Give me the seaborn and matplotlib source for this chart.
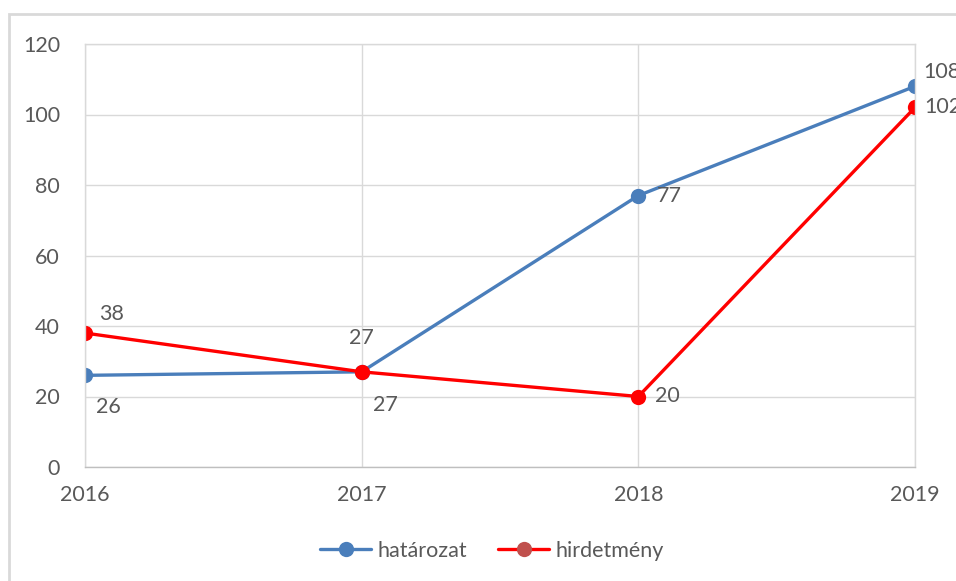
import matplotlib
matplotlib.use("Agg")
import matplotlib.pyplot as plt
import seaborn as sns
import pandas as pd
from matplotlib.lines import Line2D
from matplotlib.patches import Rectangle

# data
years = [2016, 2017, 2018, 2019]
hatarozat = [26, 27, 77, 108]
hirdetmeny = [38, 27, 20, 102]
series_names = ["határozat", "hirdetmény"]

df = pd.DataFrame({
    "year": years * 2,
    "value": hatarozat + hirdetmeny,
    "series": [series_names[0]] * 4 + [series_names[1]] * 4,
})

sns.set_style("white")
plt.rcParams["font.family"] = ["Lato", "DejaVu Sans"]

blue = "#4A7EBB"
red = "#FF0000"
text_col = "#595959"
grid_col = "#D9D9D9"
fs = 15.5

fig = plt.figure(figsize=(9.56, 5.81), dpi=100)
ax = fig.add_axes([85 / 956, 1 - 467 / 581, 830 / 956, 423 / 581])

sns.lineplot(data=df, x="year", y="value", hue="series",
             palette={series_names[0]: blue, series_names[1]: red},
             marker="o", markersize=11, markeredgewidth=0, linewidth=2.4,
             ax=ax, legend=False)

ax.set_xlim(2016, 2019)
ax.set_ylim(0, 120)
ax.set_xticks(years)
ax.set_yticks(range(0, 121, 20))
ax.grid(True, color=grid_col, linewidth=1)
ax.set_axisbelow(True)
for s in ax.spines.values():
    s.set_color(grid_col)
    s.set_linewidth(1)
ax.spines["bottom"].set_color("#BFBFBF")
ax.tick_params(axis="both", length=0, labelsize=fs, colors=text_col)
ax.tick_params(axis="y", pad=18)
ax.tick_params(axis="x", pad=13)
ax.set_xlabel("")
ax.set_ylabel("")

# data labels (offsets in points)
blue_labels = [((8, -23), "left"), ((8, -24), "left"), ((13, 0), "left"), ((6, 10), "left")]
red_labels = [((10, 14), "left"), ((0, 24), "center"), ((12, 0), "left"), ((7, 0), "left")]
for x, y, (off, ha) in zip(years, hatarozat, blue_labels):
    ax.annotate(str(y), (x, y), xytext=off, textcoords="offset points",
                ha=ha, va="center", fontsize=fs, color=text_col, annotation_clip=False)
for x, y, (off, ha) in zip(years, hirdetmeny, red_labels):
    ax.annotate(str(y), (x, y), xytext=off, textcoords="offset points",
                ha=ha, va="center", fontsize=fs, color=text_col, annotation_clip=False)

handles = [
    Line2D([], [], color=blue, marker="o", markersize=11, markeredgewidth=0, linewidth=2.4),
    Line2D([], [], color=red, marker="o", markersize=11, markerfacecolor="#C0504D",
           markeredgewidth=0, linewidth=2.4),
]
fig.legend(handles, series_names, loc="center", bbox_to_anchor=(492 / 956, 1 - 551 / 581),
           ncol=2, frameon=False, fontsize=fs, labelcolor=text_col,
           handlelength=2.4, columnspacing=1.4, handletextpad=0.3)

# outer chart border, runs off the right and bottom edges
fig.patches.append(Rectangle((9 / 956, -0.05), 1.1, 1.05 - 14 / 581,
                             transform=fig.transFigure, fill=False,
                             edgecolor=grid_col, linewidth=2))

fig.savefig("out.png", dpi=100)
